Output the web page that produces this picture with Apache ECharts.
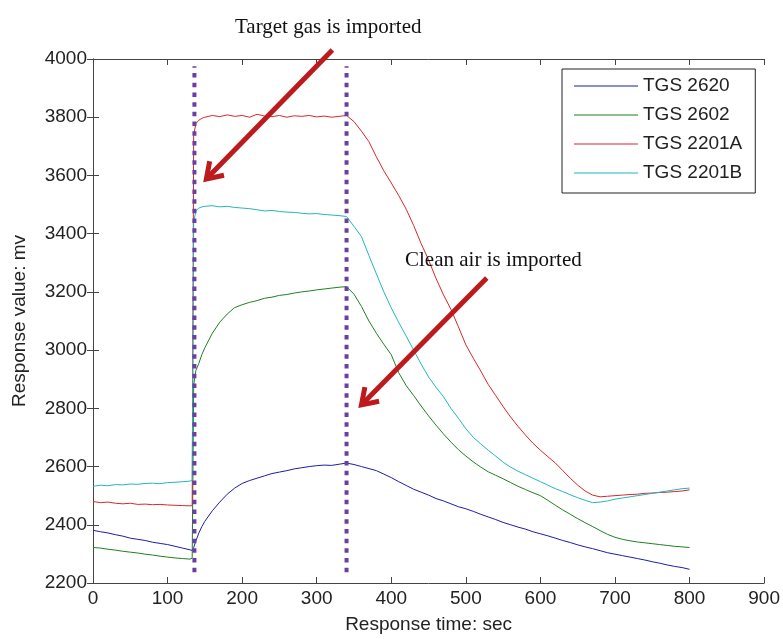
<!DOCTYPE html>
<html>
<head>
<meta charset="utf-8">
<script src="https://cdn.jsdelivr.net/npm/echarts@6/dist/echarts.min.js"></script>
<style>
html, body { margin: 0; padding: 0; background: #fff; }
#chart { width: 783px; height: 639px; }
</style>
</head>
<body>
<div id="chart"></div>
<script>
// response time, sec
var times = [0, 10, 20, 30, 40, 50, 60, 70, 80, 90, 100, 110, 120, 130,
    133, 135, 138, 142, 146,
    150, 160, 170, 180, 190, 200, 210, 220, 230, 240,
    250, 260, 270, 280, 290, 300, 310, 320, 330, 340,
    350, 360, 370, 380, 390, 400, 410, 420, 430, 440,
    450, 460, 470, 480, 490, 500, 510, 520, 530, 540,
    550, 560, 570, 580, 590, 600, 610, 620, 630, 640,
    650, 660, 670, 680, 690, 700, 710, 720, 730, 740,
    750, 760, 770, 780, 790, 800];

var tgs2620 = [2381, 2376, 2372, 2366, 2361, 2354, 2350, 2346, 2340, 2336, 2332, 2326, 2320, 2314,
    2312, 2322, 2345, 2372, 2394,
    2412, 2448, 2478, 2505, 2526, 2542, 2552, 2560, 2568, 2576,
    2581, 2586, 2592, 2596, 2600, 2603, 2605, 2604, 2608, 2612,
    2607, 2600, 2593, 2586, 2574, 2562, 2548, 2535, 2522, 2512,
    2502, 2490, 2482, 2472, 2462, 2455, 2446, 2436, 2427, 2418,
    2408, 2400, 2392, 2385, 2376, 2369, 2362, 2354, 2346, 2339,
    2331, 2324, 2318, 2311, 2304, 2299, 2294, 2289, 2284, 2279,
    2273, 2268, 2262, 2257, 2253, 2247];

var tgs2602 = [2322, 2320, 2316, 2313, 2309, 2306, 2303, 2299, 2296, 2292, 2289, 2286, 2284, 2282,
    2285, 2880, 2930, 2955, 2985,
    3008, 3058, 3096, 3124, 3146, 3156, 3164, 3170, 3178, 3182,
    3188, 3191, 3196, 3200, 3203, 3207, 3210, 3213, 3216, 3218,
    3192, 3150, 3100, 3058, 3020, 2984, 2922, 2878, 2844, 2808,
    2774, 2742, 2712, 2684, 2658, 2636, 2616, 2598, 2582, 2570,
    2558, 2545, 2532, 2521, 2510, 2500, 2484, 2467, 2451, 2436,
    2421, 2407, 2394, 2380, 2367, 2357, 2350, 2345, 2341, 2338,
    2335, 2332, 2329, 2326, 2324, 2322];

var tgs2201A = [2480, 2476, 2478, 2474, 2472, 2474, 2470, 2471, 2469, 2470, 2468, 2467, 2466, 2465,
    2466, 3740, 3778, 3790, 3796,
    3800, 3806, 3802, 3808, 3803, 3806, 3800, 3810, 3804, 3802,
    3806, 3800, 3805, 3803, 3806, 3801, 3804, 3800, 3803, 3806,
    3785, 3752, 3716, 3664, 3616, 3574, 3531, 3484, 3428, 3366,
    3310, 3246, 3190, 3140, 3080, 3018, 2972, 2928, 2882, 2844,
    2806, 2770, 2738, 2708, 2680, 2656, 2634, 2612, 2586, 2560,
    2536, 2516, 2502, 2496, 2498, 2500, 2502, 2504, 2505, 2508,
    2509, 2511, 2512, 2514, 2516, 2520];

var tgs2201B = [2532, 2536, 2534, 2538, 2537, 2540, 2539, 2542, 2543, 2541, 2545, 2546, 2548, 2550,
    2552, 3440, 3478, 3488, 3492,
    3494, 3496, 3492, 3494, 3490, 3488, 3486, 3482, 3478, 3480,
    3476, 3474, 3473, 3470, 3468, 3469, 3466, 3464, 3462, 3459,
    3425, 3390, 3325, 3262, 3200, 3145, 3095, 3048, 3000, 2952,
    2908, 2872, 2840, 2800, 2766, 2730, 2700, 2678, 2656, 2636,
    2615, 2598, 2584, 2572, 2560, 2548, 2536, 2524, 2514, 2503,
    2493, 2484, 2476, 2478, 2482, 2488, 2492, 2496, 2500, 2504,
    2508, 2512, 2516, 2520, 2524, 2526];

var names = ['TGS 2620', 'TGS 2602', 'TGS 2201A', 'TGS 2201B'];
var colors = ['#1c1ca6', '#1f7f22', '#d8262a', '#1fb7bb'];

// gas switch moments (dotted markers)
var switchTimes = [136, 340];
var switchRange = [2237, 3975];

// annotation arrows, [from, to] in data units
var arrows = [
    [[321, 4031], [152, 3588]],
    [[528, 3248], [360, 2812]]
];

var dom = document.getElementById('chart');
var myChart = echarts.init(dom);

function pairs(arr) {
    return times.map(function (t, i) {
        return [t, arr[i]];
    });
}

var values = [tgs2620, tgs2602, tgs2201A, tgs2201B];
var series = values.map(function (arr, k) {
    return {
        name: names[k],
        type: 'line',
        data: pairs(arr),
        symbol: 'none',
        silent: true,
        animation: false,
        lineStyle: {width: 1, color: colors[k]},
        itemStyle: {color: colors[k]},
        z: 2
    };
});

switchTimes.forEach(function (t) {
    series.push({
        type: 'line',
        data: [[t, switchRange[0]], [t, switchRange[1]]],
        symbol: 'none',
        silent: true,
        animation: false,
        lineStyle: {width: 4, color: '#6a3fa2', type: [4.5, 5.2]},
        z: 5
    });
});

var fontName = 'Liberation Sans, Arial, sans-serif';
var axisFont = {fontFamily: fontName, fontSize: 19, color: '#222'};

myChart.setOption({
    animation: false,
    grid: {left: 93, right: 17, top: 59, bottom: 51},
    legend: {
        data: names,
        orient: 'vertical',
        left: 562,
        top: 69,
        padding: [6, 13, 9, 12],
        icon: 'rect',
        itemWidth: 64,
        itemHeight: 1,
        itemGap: 7,
        borderColor: '#222',
        borderWidth: 1,
        backgroundColor: '#fff',
        textStyle: {fontFamily: fontName, fontSize: 19, lineHeight: 22, color: '#222'}
    },
    xAxis: [{
        type: 'value',
        min: 0, max: 900, interval: 100,
        name: 'Response time: sec',
        nameLocation: 'middle',
        nameGap: 32,
        nameTextStyle: axisFont,
        axisLine: {lineStyle: {color: '#444'}},
        axisTick: {inside: true, length: 6, lineStyle: {color: '#444'}},
        axisLabel: {margin: 6, fontFamily: fontName, fontSize: 19, color: '#222'},
        splitLine: {show: false}
    }, {
        type: 'value',
        position: 'top',
        min: 0, max: 900, interval: 100,
        axisLine: {lineStyle: {color: '#444'}},
        axisTick: {inside: true, length: 6, lineStyle: {color: '#444'}},
        axisLabel: {show: false},
        splitLine: {show: false}
    }],
    yAxis: [{
        type: 'value',
        min: 2200, max: 4000, interval: 200,
        name: 'Response value: mv',
        nameLocation: 'middle',
        nameGap: 64,
        nameTextStyle: axisFont,
        axisLine: {show: true, lineStyle: {color: '#444'}},
        axisTick: {show: true, inside: true, length: 6, lineStyle: {color: '#444'}},
        axisLabel: {
            margin: 6, fontFamily: fontName, fontSize: 19, color: '#222',
            formatter: function (v) { return String(v); }
        },
        splitLine: {show: false}
    }, {
        type: 'value',
        position: 'right',
        min: 2200, max: 4000, interval: 200,
        axisLine: {show: true, lineStyle: {color: '#444'}},
        axisTick: {show: true, inside: true, length: 6, lineStyle: {color: '#444'}},
        axisLabel: {show: false},
        splitLine: {show: false}
    }],
    series: series
});

// arrows + captions, positioned through the chart's own scales
var graphics = [];
arrows.forEach(function (a) {
    var p0 = myChart.convertToPixel({gridIndex: 0}, a[0]);
    var p1 = myChart.convertToPixel({gridIndex: 0}, a[1]);
    var dx = p1[0] - p0[0], dy = p1[1] - p0[1];
    var len = Math.sqrt(dx * dx + dy * dy);
    var ux = dx / len, uy = dy / len;
    var hl = 15, hw = 10;
    var bx = p1[0] - ux * hl, by = p1[1] - uy * hl;
    graphics.push({
        type: 'line',
        shape: {x1: p0[0], y1: p0[1], x2: p1[0] - ux * 3, y2: p1[1] - uy * 3},
        style: {stroke: '#bd1a1e', lineWidth: 5},
        z: 10
    });
    graphics.push({
        type: 'polyline',
        shape: {points: [
            [bx - uy * hw, by + ux * hw],
            [p1[0], p1[1]],
            [bx + uy * hw, by - ux * hw]
        ]},
        style: {stroke: '#bd1a1e', lineWidth: 5, lineJoin: 'miter', fill: null},
        z: 10
    });
});
graphics.push({
    type: 'text',
    left: 235, top: 17,
    style: {text: 'Target gas is imported', font: '21px "Liberation Serif", "Times New Roman", serif', fill: '#111'},
    z: 10
});
graphics.push({
    type: 'text',
    left: 405, top: 250,
    style: {text: 'Clean air is imported', font: '21px "Liberation Serif", "Times New Roman", serif', fill: '#111'},
    z: 10
});
myChart.setOption({graphic: graphics});
</script>
</body>
</html>
